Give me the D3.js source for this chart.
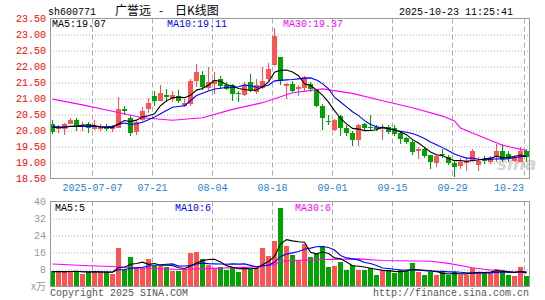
<!DOCTYPE html>
<html>
<head>
<meta charset="utf-8">
<script src="https://cdn.jsdelivr.net/npm/d3@7"></script>
<style>
  body { margin: 0; background: #fff; }
  svg { display: block; }
  text { font-family: "Liberation Mono", "DejaVu Sans Mono", monospace; font-size: 10px; }
</style>
</head>
<body>
<svg id="chart" width="545" height="300"></svg>
<script>
// trading days shown (80 candles)
const dates = ["06-26","06-27","06-30","07-01","07-02","07-03","07-04","07-07","07-08","07-09",
  "07-10","07-11","07-14","07-15","07-16","07-17","07-18","07-21","07-22","07-23",
  "07-24","07-25","07-28","07-29","07-30","07-31","08-01","08-04","08-05","08-06",
  "08-07","08-08","08-11","08-12","08-13","08-14","08-15","08-18","08-19","08-20",
  "08-21","08-22","08-25","08-26","08-27","08-28","08-29","09-01","09-02","09-03",
  "09-04","09-05","09-08","09-09","09-10","09-11","09-12","09-15","09-16","09-17",
  "09-18","09-19","09-22","09-23","09-24","09-25","09-26","09-29","09-30","10-09",
  "10-10","10-13","10-14","10-15","10-16","10-17","10-20","10-21","10-22","10-23"];

const open = [20.21,20.03,20.03,20.21,20.33,20.14,20.19,20.05,20.03,20.10,
  20.05,20.10,20.68,20.39,19.97,20.34,20.66,21.09,20.94,21.11,
  20.97,21.09,20.78,20.83,21.56,21.72,21.32,21.46,21.62,21.43,
  21.41,21.17,21.11,21.51,21.18,21.35,21.61,22.03,22.31,21.41,
  21.46,21.28,21.32,21.46,21.27,20.78,20.30,20.03,20.44,20.09,
  19.93,19.69,20.21,20.12,20.12,20.05,20.10,20.08,19.93,19.76,
  19.64,19.38,19.43,19.22,18.99,19.26,19.17,18.98,18.89,19.01,
  19.06,18.93,19.08,19.03,19.20,19.37,19.27,19.06,19.03,19.35];
const high = [20.33,20.18,20.24,20.40,20.40,20.26,20.26,20.33,20.21,20.21,
  20.16,21.04,20.78,20.47,20.31,20.73,21.01,21.22,21.41,21.30,
  21.22,21.28,20.97,21.61,22.08,21.87,21.98,21.82,21.70,21.51,
  21.46,21.22,21.51,21.77,21.61,21.98,22.12,23.20,22.31,21.48,
  21.56,21.41,21.70,21.53,21.30,20.83,20.47,20.36,20.47,20.16,
  19.97,20.21,20.23,20.47,20.16,20.19,20.16,20.16,19.97,19.79,
  19.69,19.48,19.48,19.24,19.22,19.41,19.22,19.06,19.14,19.12,
  19.41,19.17,19.20,19.20,19.58,19.58,19.37,19.22,19.48,19.43];
const low = [19.90,19.93,19.87,20.19,19.97,20.00,19.92,20.02,20.00,19.97,
  19.95,20.10,20.49,19.82,19.86,20.31,20.55,20.78,20.91,20.89,
  20.89,20.86,20.73,20.78,21.35,21.25,21.25,21.15,21.30,21.25,
  20.91,20.89,21.07,21.20,21.15,21.30,21.56,22.03,21.43,20.97,
  21.20,21.07,21.20,21.20,20.75,20.02,20.16,20.00,19.84,19.84,
  19.51,19.53,19.97,19.97,20.00,19.69,19.90,19.84,19.58,19.58,
  19.24,19.12,19.14,18.80,18.85,19.14,18.93,18.54,18.80,18.72,
  19.01,18.75,18.96,18.96,19.03,19.01,19.01,19.01,19.01,19.01];
const close = [19.95,20.07,20.19,20.34,20.10,20.17,20.05,20.12,20.10,20.05,
  20.11,20.68,20.62,19.93,20.28,20.62,20.85,20.94,21.18,21.04,
  21.11,20.94,20.86,21.56,21.84,21.35,21.51,21.59,21.41,21.30,
  21.13,21.14,21.43,21.25,21.41,21.56,21.93,22.94,21.56,21.46,
  21.25,21.35,21.67,21.30,20.78,20.42,20.27,20.34,20.07,19.93,
  19.72,20.16,20.10,20.09,20.05,20.12,19.95,19.90,19.74,19.64,
  19.34,19.43,19.22,19.01,19.20,19.22,18.99,18.87,19.03,19.06,
  19.37,19.06,19.05,19.14,19.37,19.11,19.14,19.17,19.37,19.15];
// volume, 万手
const volume = [7.2,7.2,7.2,7.1,7.2,5.9,6.7,7.5,6.7,6.7,
  5.9,17.9,8.0,13.7,8.8,8.8,12.8,9.8,9.8,9.4,
  7.5,7.5,8.3,15.6,16.4,13.1,10.3,8.6,9.1,8.0,
  9.4,6.7,9.4,8.3,8.8,17.9,14.5,21.5,37.1,19.2,
  15.0,12.6,20.2,13.7,15.3,19.2,9.4,9.8,11.4,8.0,
  10.3,8.0,8.0,8.8,5.6,7.5,7.5,6.2,8.0,7.5,
  10.9,6.7,5.2,6.7,5.6,6.7,5.2,6.7,5.6,5.6,
  8.8,6.7,6.4,6.7,8.3,7.8,5.2,4.8,9.4,4.8];

// closes / volumes of the days just before the window (for MA5 / MA10 warm-up)
const closesBefore = [20.15,20.25,20.10,20.20,20.05,20.15,20.10,20.20,20.10];
const volumesBefore = [7.0,8.0,6.5,7.5,7.0,6.8,7.2,7.0,6.5];

// MA30 lines (candle index -> value)
const ma30Idx  = [0,5,10,15,20,25,30,35,40,45,50,55,60,65,67,68,70,75,79];
const ma30Val  = [20.98,20.80,20.60,20.40,20.32,20.40,20.66,20.87,21.18,21.30,21.16,20.93,20.71,20.45,20.30,20.08,19.92,19.54,19.37];
const vma30Idx = [0,6,10,14,21,33,37,38,42,51,55,63,66,70,73,76,79];
const vma30Val = [10.6,9.8,9.4,8.8,8.0,9.1,10.3,11.9,12.5,13.0,12.2,11.9,10.9,8.8,7.8,7.0,6.7];

const tickDates  = ["07-07","07-21","08-04","08-18","09-01","09-15","09-29","10-23"];
const tickLabels = ["2025-07-07","07-21","08-04","08-18","09-01","09-15","09-29","10-23"];
const priceTicks = [18.5,19,19.5,20,20.5,21,21.5,22,22.5,23,23.5];
const volTicks = [8,16,24,32,40];

const RED = "#ff5252", GREEN = "#00a400";

const svg = d3.select("#chart");
const L = 50, R = 530;
const pTop = 18.5, pBot = 178.5, vTop = 201.5, vBot = 286.5;

const x = d3.scaleBand().domain(dates).range([L, R])
  .paddingInner(1/6).paddingOuter(1/12).align(0);
const bw = x.bandwidth();
const cx = d => x(d) + bw / 2;

const yP = d3.scaleLinear().domain([18.5, 23.5]).range([pBot, pTop]);
const yV = d3.scaleLinear().domain([0, 40]).range([vBot, vTop]);

function movingAvg(vals, before, n) {
  const all = before.concat(vals);
  return vals.map((v, i) => d3.mean(all.slice(i + before.length - n + 1, i + before.length + 1)));
}

// ---- header ----
svg.append("text").attr("x", 48).attr("y", 15).text("sh600771");
const title = svg.append("text").attr("y", 15)
  .style("font-family", "'Noto Sans CJK SC', sans-serif").style("font-size", "12px");
title.append("tspan").attr("x", 115).text("广誉远");
title.append("tspan").attr("x", 159).text("-");
title.append("tspan").attr("x", 175).text("日K线图");
svg.append("text").attr("x", 399).attr("y", 15).text("2025-10-23 11:25:41");

// ---- grids ----
svg.append("g").attr("class", "grid")
  .attr("transform", `translate(${L},0)`)
  .call(d3.axisLeft(yP).tickValues(priceTicks.slice(1, -1)).tickSize(-(R - L)).tickFormat(""))
  .call(g => g.select(".domain").remove())
  .selectAll("line").attr("stroke", "#aaa").attr("stroke-dasharray", "1,2");

svg.append("g").attr("class", "grid")
  .attr("transform", `translate(${L},0)`)
  .call(d3.axisLeft(yV).tickValues(volTicks.slice(0, -1)).tickSize(-(R - L)).tickFormat(""))
  .call(g => g.select(".domain").remove())
  .selectAll("line").attr("stroke", "#aaa").attr("stroke-dasharray", "1,2");

[[pTop, pBot], [vTop, vBot]].forEach(([t, b]) => {
  svg.append("g").selectAll("line").data(tickDates).join("line")
    .attr("x1", d => x(d) + 0.5).attr("x2", d => x(d) + 0.5)
    .attr("y1", t).attr("y2", b)
    .attr("stroke", "#aaa").attr("stroke-dasharray", "5,3");
});

// watermark
svg.append("text").attr("x", 497).attr("y", 170)
  .style("font-family", "'DejaVu Sans', sans-serif").style("font-size", "17px")
  .style("font-style", "italic").style("font-weight", "bold")
  .attr("fill", "#bbb").attr("opacity", 0.6).text("sina");

// ---- axes ----
svg.append("g").attr("transform", `translate(${L},0)`)
  .call(d3.axisLeft(yP).tickValues(priceTicks).tickFormat(d3.format(".2f")).tickSize(0).tickPadding(4))
  .call(g => g.select(".domain").remove())
  .selectAll("text").attr("fill", "#f00").attr("font-family", null).attr("font-size", null);

svg.append("g").attr("transform", `translate(${L},0)`)
  .call(d3.axisLeft(yV).tickValues(volTicks).tickSize(0).tickPadding(4))
  .call(g => g.select(".domain").remove())
  .selectAll("text").attr("fill", "#999").attr("font-family", null).attr("font-size", null);

svg.append("text").attr("x", 46).attr("y", 290).attr("text-anchor", "end")
  .attr("fill", "#999").style("font-family", "'Noto Sans CJK SC', serif").style("font-size", "10px")
  .text("x万");

svg.append("g").selectAll("text").data(tickDates).join("text")
  .attr("x", (d, i) => i === tickDates.length - 1 ? x(d) : x(d) + 0.5)
  .attr("y", 191)
  .attr("text-anchor", (d, i) => i === tickDates.length - 1 ? "end" : "middle")
  .attr("fill", "#1a82d6")
  .text((d, i) => tickLabels[i]);

// ---- candles ----
const rows = dates.map((d, i) => ({d, o: open[i], h: high[i], l: low[i], c: close[i], v: volume[i]}));
const col = r => r.c >= r.o ? RED : GREEN;

const candle = svg.append("g").selectAll("g").data(rows).join("g");
candle.append("line")
  .attr("x1", r => cx(r.d)).attr("x2", r => cx(r.d))
  .attr("y1", r => Math.round(yP(r.h))).attr("y2", r => Math.round(yP(r.l)))
  .attr("stroke", col);
candle.append("rect")
  .attr("x", r => x(r.d)).attr("width", bw)
  .attr("y", r => Math.round(yP(Math.max(r.o, r.c))))
  .attr("height", r => Math.max(1, Math.round(Math.abs(yP(r.o) - yP(r.c)))))
  .attr("fill", col);

// ---- volume bars ----
svg.append("g").selectAll("rect").data(rows).join("rect")
  .attr("x", r => x(r.d)).attr("width", bw)
  .attr("y", r => Math.round(yV(r.v))).attr("height", r => vBot - Math.round(yV(r.v)))
  .attr("fill", col);

// ---- moving averages ----
const line = d3.line().x(p => p[0]).y(p => p[1]);
function drawLine(pts, color) {
  svg.append("path").attr("d", line(pts)).attr("fill", "none")
    .attr("stroke", color).attr("stroke-width", 1.1);
}
const ma5 = movingAvg(close, closesBefore, 5);
const ma10 = movingAvg(close, closesBefore, 10);
drawLine(ma30Idx.map((k, j) => [cx(dates[k]), yP(ma30Val[j])]), "#f0f");
drawLine(dates.map((d, i) => [cx(d), yP(ma10[i])]), "#00f");
drawLine(dates.map((d, i) => [cx(d), yP(ma5[i])]), "#000");

const vma5 = movingAvg(volume, volumesBefore, 5);
const vma10 = movingAvg(volume, volumesBefore, 10);
drawLine(vma30Idx.map((k, j) => [cx(dates[k]), yV(vma30Val[j])]), "#f0f");
drawLine(dates.map((d, i) => [cx(d), yV(vma10[i])]), "#00f");
drawLine(dates.map((d, i) => [cx(d), yV(vma5[i])]), "#000");

// ---- frames ----
svg.append("rect").attr("x", L + 0.5).attr("y", pTop).attr("width", R - L - 1).attr("height", pBot - pTop)
  .attr("fill", "none").attr("stroke", "#999");
svg.append("rect").attr("x", L + 0.5).attr("y", vTop).attr("width", R - L - 1).attr("height", vBot - vTop)
  .attr("fill", "none").attr("stroke", "#999");

// ---- legends ----
const legP = [["MA5:19.07", "#000", 52], ["MA10:19.11", "#00f", 167], ["MA30:19.37", "#f0f", 283]];
svg.append("g").selectAll("text").data(legP).join("text")
  .attr("x", d => d[2]).attr("y", 27).attr("fill", d => d[1]).text(d => d[0]);
const legV = [["MA5:5", "#000", 55], ["MA10:6", "#00f", 175], ["MA30:6", "#f0f", 295]];
svg.append("g").selectAll("text").data(legV).join("text")
  .attr("x", d => d[2]).attr("y", 211).attr("fill", d => d[1]).text(d => d[0]);

// ---- footer ----
svg.append("text").attr("x", 50).attr("y", 296).attr("fill", "#555").text("Copyright 2025 SINA.COM");
svg.append("text").attr("x", 529).attr("y", 296).attr("text-anchor", "end").attr("fill", "#555")
  .text("http://finance.sina.com.cn");
</script>
</body>
</html>
